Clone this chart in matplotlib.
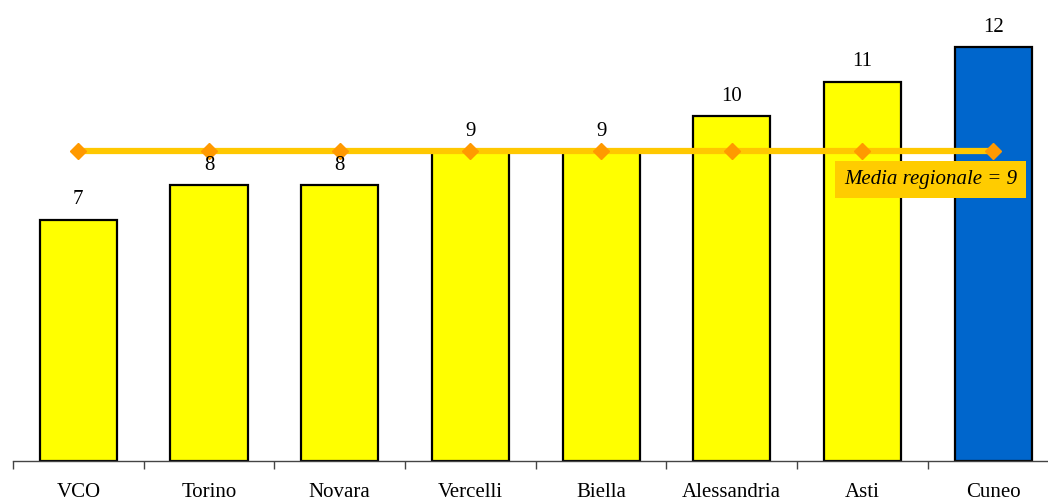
import numpy as np
import matplotlib
matplotlib.use('agg')
import matplotlib.pyplot as plt

provinces = ["VCO", "Torino", "Novara", "Vercelli", "Biella", "Alessandria", "Asti", "Cuneo"]
values = [7, 8, 8, 9, 9, 10, 11, 12]
regional_mean = 9
highlight = "Cuneo"

plt.rcParams['font.family'] = ['Liberation Serif', 'DejaVu Serif']

fig = plt.figure(figsize=(10.48, 5.01), dpi=100)
ax = fig.add_axes([13 / 1048, 40 / 501, 1 - 13 / 1048, 461 / 501])

x = np.arange(len(provinces))
colors = ['#0066CC' if p == highlight else '#FFFF00' for p in provinces]
ax.bar(x, values, width=0.59, color=colors, edgecolor='black', linewidth=1.6, zorder=2)

# regional mean line
ax.plot(x, [regional_mean] * len(x), color='#FFC800', linewidth=4.5, zorder=3,
        marker='D', markersize=8, markerfacecolor='#FF9900', markeredgecolor='#FF9900')

for xi, v in zip(x, values):
    ax.annotate(str(v), (xi, v), xytext=(0, 10), textcoords='offset pixels',
                ha='center', va='bottom', fontsize=15, zorder=4)

ax.text(0.888, 0.642, "Media regionale = %d" % regional_mean, transform=fig.transFigure,
        ha='center', va='center', fontsize=15, style='italic', zorder=5,
        bbox=dict(facecolor='#FFCC00', edgecolor='none', pad=6.5))

ax.set_xlim(-0.5, 7.42)
ax.set_ylim(0, 461 / 34.5)

for side in ['left', 'right', 'top']:
    ax.spines[side].set_visible(False)
ax.spines['bottom'].set_color('#444444')
ax.spines['bottom'].set_linewidth(1)

ax.set_yticks([])
ax.set_xticks(np.arange(-0.5, 7.5, 1.0))
ax.set_xticks(x, minor=True)
ax.set_xticklabels([])
ax.set_xticklabels(provinces, minor=True, fontsize=15)
ax.tick_params(axis='x', which='major', direction='out', length=6, width=1, color='#444444')
ax.tick_params(axis='x', which='minor', length=0, pad=15.5)

fig.savefig('out.png', dpi=100)
